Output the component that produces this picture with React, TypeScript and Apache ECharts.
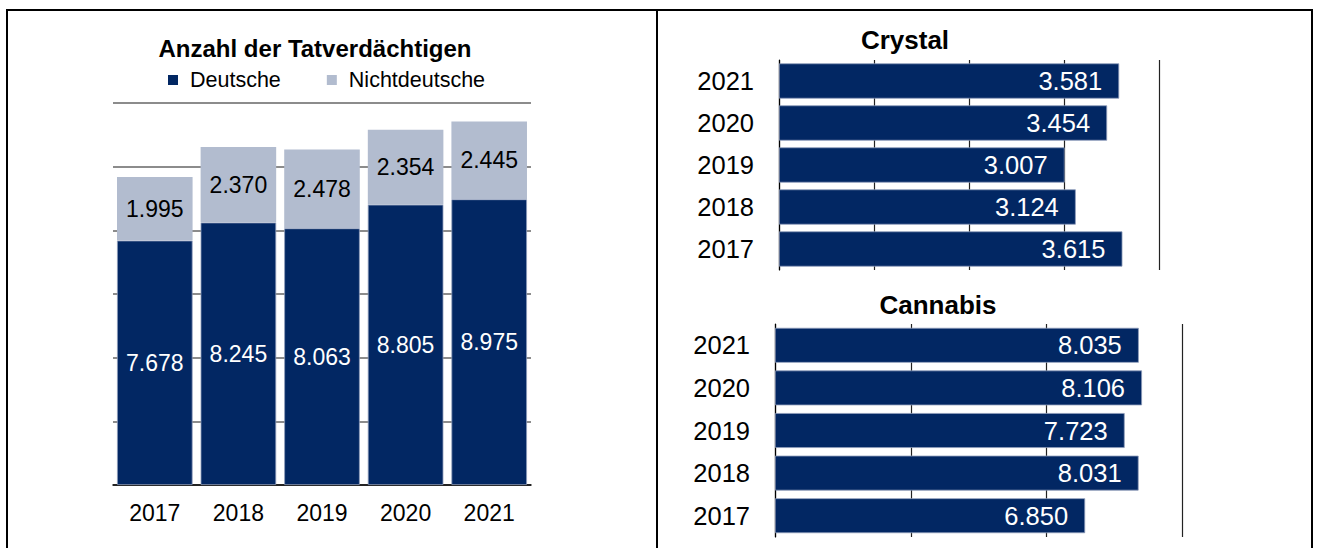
import React, { useEffect, useRef } from "react";
import * as echarts from "echarts";

const years = ["2017", "2018", "2019", "2020", "2021"];
const deutsche = [7678, 8245, 8063, 8805, 8975];
const nichtdeutsche = [1995, 2370, 2478, 2354, 2445];
const crystal = [3615, 3124, 3007, 3454, 3581];
const cannabis = [6850, 8031, 7723, 8106, 8035];

const leftAxisMax = 12000;
const leftAxisInterval = 2000;
const crystalAxisMax = 4000;
const crystalAxisInterval = 1000;
const cannabisAxisMax = 9000;
const cannabisAxisInterval = 3000;

const titleLeft = "Anzahl der Tatverdächtigen";
const titleCrystal = "Crystal";
const titleCannabis = "Cannabis";

const NAVY = "#022763";
const LIGHT = "#b2bccf";
const FONT = "'Liberation Sans', Arial, Helvetica, sans-serif";

const fmt = (v: number) => {
  const t = Math.floor(v / 1000);
  const r = v % 1000;
  return t > 0 ? `${t}.${String(r).padStart(3, "0")}` : String(r);
};

export default function App() {
  const ref = useRef<HTMLDivElement>(null);
  useEffect(() => {
    if (!ref.current) return;
    const chart = echarts.init(ref.current, undefined, { renderer: "svg" });
    const hBarSeries = (data: number[], idx: number, gap: string) => ({
      type: "bar",
      xAxisIndex: idx,
      yAxisIndex: idx,
      data,
      barCategoryGap: gap,
      itemStyle: { color: NAVY, borderColor: "#8e9cba", borderWidth: 0.8 },
      label: {
        show: true,
        position: "insideRight",
        distance: 17,
        color: "#fff",
        fontSize: 25.5,
        fontFamily: FONT,
        formatter: (p: any) => fmt(p.value),
      },
    });
    chart.setOption({
      animation: false,
      textStyle: { fontFamily: FONT },
      grid: [
        { left: 113, right: 1320 - 531, top: 103, bottom: 548 - 485 },
        { left: 779, right: 1320 - 1159, top: 60, bottom: 548 - 270 },
        { left: 775, right: 1320 - 1182.5, top: 324, bottom: 548 - 537 },
      ],
      legend: {
        left: 168,
        top: 69,
        padding: 0,
        icon: "rect",
        itemWidth: 10,
        itemHeight: 10,
        itemGap: 46,
        itemStyle: { borderWidth: 0 },
        textStyle: { fontSize: 21.5, color: "#000", fontFamily: FONT, padding: [0, 0, 0, 7] },
        data: ["Deutsche", "Nichtdeutsche"],
      },
      xAxis: [
        {
          type: "category",
          gridIndex: 0,
          data: years,
          axisLine: { lineStyle: { color: "#000", width: 1.5 } },
          axisTick: { show: false },
          axisLabel: { color: "#000", fontSize: 23, margin: 16, fontFamily: FONT },
        },
        {
          type: "value",
          gridIndex: 1,
          min: 0,
          max: crystalAxisMax,
          interval: crystalAxisInterval,
          axisLine: { show: false },
          axisTick: { show: false },
          axisLabel: { show: false },
          splitLine: { lineStyle: { color: "#222", width: 1.2 } },
        },
        {
          type: "value",
          gridIndex: 2,
          min: 0,
          max: cannabisAxisMax,
          interval: cannabisAxisInterval,
          axisLine: { show: false },
          axisTick: { show: false },
          axisLabel: { show: false },
          splitLine: { lineStyle: { color: "#222", width: 1.2 } },
        },
      ],
      yAxis: [
        {
          type: "value",
          gridIndex: 0,
          min: 0,
          max: leftAxisMax,
          interval: leftAxisInterval,
          axisLine: { show: false },
          axisTick: { show: false },
          axisLabel: { show: false },
          splitLine: { lineStyle: { color: "#666", width: 1.5 } },
        },
        {
          type: "category",
          gridIndex: 1,
          data: years,
          axisLine: { show: true, lineStyle: { color: "#000", width: 1.2 } },
          axisTick: { show: false },
          axisLabel: { color: "#000", fontSize: 25.5, margin: 25, fontFamily: FONT },
        },
        {
          type: "category",
          gridIndex: 2,
          data: years,
          axisLine: { show: true, lineStyle: { color: "#000", width: 1.2 } },
          axisTick: { show: false },
          axisLabel: { color: "#000", fontSize: 25.5, margin: 25, fontFamily: FONT },
        },
      ],
      series: [
        {
          name: "Deutsche",
          type: "bar",
          stack: "total",
          xAxisIndex: 0,
          yAxisIndex: 0,
          data: deutsche,
          barCategoryGap: "9.6%",
          itemStyle: { color: NAVY, borderColor: "#8e9cba", borderWidth: 0.8 },
          label: {
            show: true,
            position: "inside",
            color: "#fff",
            fontSize: 23,
            fontFamily: FONT,
            formatter: (p: any) => fmt(p.value),
          },
        },
        {
          name: "Nichtdeutsche",
          type: "bar",
          stack: "total",
          xAxisIndex: 0,
          yAxisIndex: 0,
          data: nichtdeutsche,
          barCategoryGap: "9.6%",
          itemStyle: { color: LIGHT },
          label: {
            show: true,
            position: "inside",
            color: "#000",
            fontSize: 23,
            fontFamily: FONT,
            formatter: (p: any) => fmt(p.value),
          },
        },
        hBarSeries(crystal, 1, "16%"),
        hBarSeries(cannabis, 2, "18%"),
      ],
      graphic: [
        { type: "line", shape: { x1: 6, y1: 10, x2: 1313, y2: 10 }, style: { stroke: "#000", lineWidth: 2 } },
        { type: "line", shape: { x1: 7, y1: 9, x2: 7, y2: 548 }, style: { stroke: "#000", lineWidth: 2 } },
        { type: "line", shape: { x1: 657, y1: 9, x2: 657, y2: 548 }, style: { stroke: "#000", lineWidth: 2 } },
        { type: "line", shape: { x1: 1312, y1: 9, x2: 1312, y2: 548 }, style: { stroke: "#000", lineWidth: 2 } },
        {
          type: "text",
          x: 315,
          y: 48,
          style: { text: titleLeft, fontSize: 24, fontWeight: "bold", fontFamily: FONT, fill: "#000", align: "center", verticalAlign: "middle" },
        },
        {
          type: "text",
          x: 905,
          y: 40,
          style: { text: titleCrystal, fontSize: 26, fontWeight: "bold", fontFamily: FONT, fill: "#000", align: "center", verticalAlign: "middle" },
        },
        {
          type: "text",
          x: 938,
          y: 305,
          style: { text: titleCannabis, fontSize: 26, fontWeight: "bold", fontFamily: FONT, fill: "#000", align: "center", verticalAlign: "middle" },
        },
      ],
    });
    return () => chart.dispose();
  }, []);
  return (
    <div
      ref={ref}
      style={{ position: "fixed", left: 0, top: 0, width: 1320, height: 548, background: "#fff" }}
    />
  );
}
